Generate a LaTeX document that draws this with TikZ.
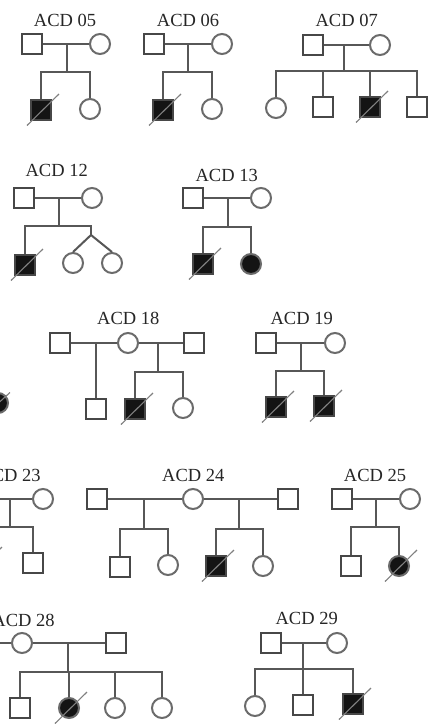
\documentclass[tikz,border=0pt]{standalone}
\usepackage{fontspec}
\setmainfont{Liberation Serif}
\usetikzlibrary{calc}
\newcommand\decslash[1]{\draw[sl] ($(#1.center)+(-14,15.5)$) -- ($(#1.center)+(18,-16)$);}
\begin{document}
\begin{tikzpicture}[x=1pt,y=-1pt,
  ln/.style={draw=black!66,line width=2pt},
  sq/.style={rectangle,draw=black!72,line width=2pt,minimum size=20pt,inner sep=0pt},
  ci/.style={circle,draw=black!58,line width=2pt,minimum size=20pt,inner sep=0pt},
  aff/.style={fill=black!92},
  ttl/.style={font=\fontsize{18.5}{18.5}\selectfont,text=black!85,inner sep=0pt},
  sl/.style={draw=black!50,line width=1.1pt}]
\clip (0,0) rectangle (435,728);
\fill[white] (0,0) rectangle (435,728);

% ACD 05
\node[ttl] (t05) at (65,20) {ACD 05};
\node[sq] (f05) at (32,44) {};
\node[ci] (m05) at (100,44) {};
\coordinate (d05) at (67,44);
\coordinate (s05) at (67,72);
\node[sq,aff] (c05a) at (41,110) {};
\node[ci] (c05b) at (90,109) {};
\draw[ln] (f05) -- (m05);
\draw[ln] (d05) -- (s05);
\draw[ln] (c05a.north) |- (s05) -| (c05b.north);
\decslash{c05a}

% ACD 06
\node[ttl] (t06) at (188,20) {ACD 06};
\node[sq] (f06) at (154,44) {};
\node[ci] (m06) at (222,44) {};
\coordinate (d06) at (188,44);
\coordinate (s06) at (188,72);
\node[sq,aff] (c06a) at (163,110) {};
\node[ci] (c06b) at (212,109) {};
\draw[ln] (f06) -- (m06);
\draw[ln] (d06) -- (s06);
\draw[ln] (c06a.north) |- (s06) -| (c06b.north);
\decslash{c06a}

% ACD 07
\node[ttl] (t07) at (346.7,20) {ACD 07};
\node[sq] (f07) at (313,45) {};
\node[ci] (m07) at (380,45) {};
\coordinate (d07) at (344,45);
\coordinate (s07) at (344,71);
\node[ci] (c07a) at (276,108) {};
\node[sq] (c07b) at (323,107) {};
\node[sq,aff] (c07c) at (370,107) {};
\node[sq] (c07d) at (417,107) {};
\draw[ln] (f07) -- (m07);
\draw[ln] (d07) -- (s07);
\draw[ln] (c07a.north) |- (s07) -| (c07d.north);
\draw[ln] (c07b.north) -- (c07b.north |- s07);
\draw[ln] (c07c.north) -- (c07c.north |- s07);
\decslash{c07c}

% ACD 12
\node[ttl] (t12) at (56.7,170) {ACD 12};
\node[sq] (f12) at (24,198) {};
\node[ci] (m12) at (92,198) {};
\coordinate (d12) at (59,198);
\coordinate (s12) at (59,226);
\coordinate (tw12) at (91,235);
\node[sq,aff] (c12a) at (25,265) {};
\node[ci] (c12b) at (73,263) {};
\node[ci] (c12c) at (112,263) {};
\draw[ln] (f12) -- (m12);
\draw[ln] (d12) -- (s12);
\draw[ln] (c12a.north) |- (s12) -| (tw12);
\draw[ln] (tw12) -- (c12b.north);
\draw[ln] (tw12) -- (c12c.north);
\decslash{c12a}

% ACD 13
\node[ttl] (t13) at (226.7,175) {ACD 13};
\node[sq] (f13) at (193,198) {};
\node[ci] (m13) at (261,198) {};
\coordinate (d13) at (228,198);
\coordinate (s13) at (228,227);
\node[sq,aff] (c13a) at (203,264) {};
\node[ci,aff] (c13b) at (251,264) {};
\draw[ln] (f13) -- (m13);
\draw[ln] (d13) -- (s13);
\draw[ln] (c13a.north) |- (s13) -| (c13b.north);
\decslash{c13a}

% partial at left, row 3
\node[ci,aff] (p17) at (-2,403) {};
\draw[sl] ($(p17.center)+(-16,15)$) -- ($(p17.center)+(12,-10.5)$);

% ACD 18
\node[ttl] (t18) at (128.3,318) {ACD 18};
\node[sq] (f18a) at (60,343) {};
\node[ci] (m18) at (128,343) {};
\node[sq] (f18b) at (194,343) {};
\coordinate (d18a) at (96,343);
\coordinate (d18b) at (158,343);
\coordinate (s18) at (158,372);
\node[sq] (c18a) at (96,409) {};
\node[sq,aff] (c18b) at (135,409) {};
\node[ci] (c18c) at (183,408) {};
\draw[ln] (f18a) -- (m18) -- (f18b);
\draw[ln] (d18a) -- (c18a.north);
\draw[ln] (d18b) -- (s18);
\draw[ln] (c18b.north) |- (s18) -| (c18c.north);
\decslash{c18b}

% ACD 19
\node[ttl] (t19) at (301.7,318) {ACD 19};
\node[sq] (f19) at (266,343) {};
\node[ci] (m19) at (335,343) {};
\coordinate (d19) at (301,343);
\coordinate (s19) at (301,371);
\node[sq,aff] (c19a) at (276,407) {};
\node[sq,aff] (c19b) at (324,406) {};
\draw[ln] (f19) -- (m19);
\draw[ln] (d19) -- (s19);
\draw[ln] (c19a.north) |- (s19) -| (c19b.north);
\decslash{c19a}
\decslash{c19b}

% ACD 23 (partly outside)
\node[ttl] (t23) at (9.5,475) {ACD 23};
\node[sq] (f23) at (-23,499) {};
\node[ci] (m23) at (43,499) {};
\coordinate (d23) at (10,499);
\coordinate (s23) at (10,527);
\node[sq,aff] (c23a) at (-16,563) {};
\node[sq] (c23b) at (33,563) {};
\draw[ln] (f23) -- (m23);
\draw[ln] (d23) -- (s23);
\draw[ln] (c23a.north) |- (s23) -| (c23b.north);
\decslash{c23a}

% ACD 24
\node[ttl] (t24) at (193.3,475) {ACD 24};
\node[sq] (f24a) at (97,499) {};
\node[ci] (m24) at (193,499) {};
\node[sq] (f24b) at (288,499) {};
\coordinate (d24a) at (144,499);
\coordinate (s24a) at (144,529);
\coordinate (d24b) at (239,499);
\coordinate (s24b) at (239,529);
\node[sq] (c24a) at (120,567) {};
\node[ci] (c24b) at (168,565) {};
\node[sq,aff] (c24c) at (216,566) {};
\node[ci] (c24d) at (263,566) {};
\draw[ln] (f24a) -- (m24) -- (f24b);
\draw[ln] (d24a) -- (s24a);
\draw[ln] (d24b) -- (s24b);
\draw[ln] (c24a.north) |- (s24a) -| (c24b.north);
\draw[ln] (c24c.north) |- (s24b) -| (c24d.north);
\decslash{c24c}

% ACD 25
\node[ttl] (t25) at (375,475) {ACD 25};
\node[sq] (f25) at (342,499) {};
\node[ci] (m25) at (410,499) {};
\coordinate (d25) at (376,499);
\coordinate (s25) at (376,527);
\node[sq] (c25a) at (351,566) {};
\node[ci,aff] (c25b) at (399,566) {};
\draw[ln] (f25) -- (m25);
\draw[ln] (d25) -- (s25);
\draw[ln] (c25a.north) |- (s25) -| (c25b.north);
\decslash{c25b}

% ACD 28 (partly outside)
\node[ttl] (t28) at (23.5,620) {ACD 28};
\coordinate (l28) at (-10,643);
\node[ci] (m28) at (22,643) {};
\node[sq] (f28) at (116,643) {};
\coordinate (d28) at (68,643);
\coordinate (s28) at (68,672);
\node[sq] (c28a) at (20,708) {};
\node[ci,aff] (c28b) at (69,708) {};
\node[ci] (c28c) at (115,708) {};
\node[ci] (c28d) at (162,708) {};
\draw[ln] (l28) -- (m28) -- (f28);
\draw[ln] (d28) -- (s28);
\draw[ln] (c28a.north) |- (s28) -| (c28d.north);
\draw[ln] (c28b.north) -- (c28b.north |- s28);
\draw[ln] (c28c.north) -- (c28c.north |- s28);
\decslash{c28b}

% ACD 29
\node[ttl] (t29) at (306.7,618.3) {ACD 29};
\node[sq] (f29) at (271,643) {};
\node[ci] (m29) at (337,643) {};
\coordinate (d29) at (303,643);
\coordinate (s29) at (303,669);
\node[ci] (c29a) at (255,706) {};
\node[sq] (c29b) at (303,705) {};
\node[sq,aff] (c29c) at (353,704) {};
\draw[ln] (f29) -- (m29);
\draw[ln] (d29) -- (s29);
\draw[ln] (c29a.north) |- (s29) -| (c29c.north);
\draw[ln] (c29b.north) -- (c29b.north |- s29);
\decslash{c29c}
\end{tikzpicture}
\end{document}
